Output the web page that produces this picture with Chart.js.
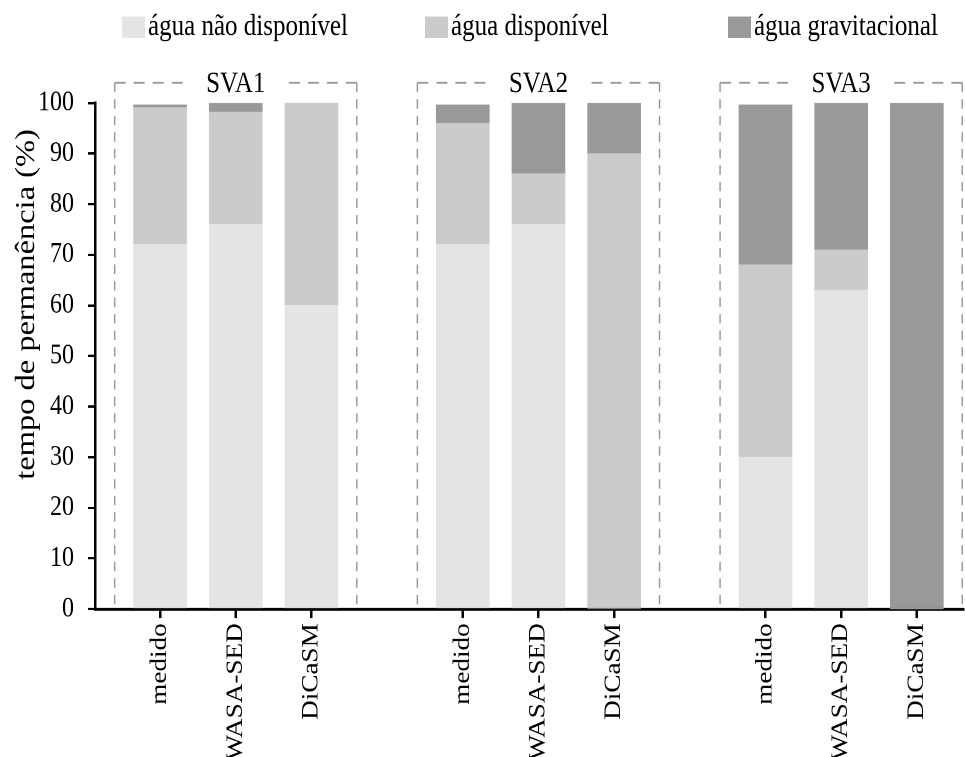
<!DOCTYPE html>
<html>
<head>
<meta charset="utf-8">
<script src="https://cdn.jsdelivr.net/npm/chart.js@4/dist/chart.umd.min.js"></script>
<style>
  html, body { margin: 0; padding: 0; background: #fff; width: 965px; height: 757px; overflow: hidden; }
  #wrap { width: 965px; height: 642px; transform: scaleY(1.18); transform-origin: 0 0; }
</style>
</head>
<body>
<div id="wrap"><canvas id="c" width="965" height="642"></canvas></div>
<script>
// Soil-water classes per site (SVA1..SVA3) and source (measured / two models), % of time
const groups = ['SVA1', 'SVA2', 'SVA3'];
const categories = ['medido', 'WASA-SED', 'DiCaSM'];
const seriesNames = ['água não disponível', 'água disponível', 'água gravitacional'];

// values listed group by group: SVA1 (medido, WASA-SED, DiCaSM), SVA2 (...), SVA3 (...)
const naoDisponivel = [72, 76, 60, 72, 76, 0, 30, 63, 0];
const disponivel    = [27.1, 22.2, 40, 24, 10, 90, 38, 8, 0];
const gravitacional = [0.5, 1.8, 0, 3.6, 14, 10, 31.6, 29, 100];

const yTickValues = [0, 10, 20, 30, 40, 50, 60, 70, 80, 90, 100];
const yTitle = 'tempo de permanência (%)';

const colors = ['#e4e4e4', '#cbcbcb', '#999999'];
const FONT = '"Liberation Serif", "Times New Roman", serif';

// each group takes its categories plus one empty slot as spacer
const slotsPerGroup = categories.length + 1;
const slots = [];
const slotLabels = {};
groups.forEach((g, gi) => {
  categories.forEach((c, ci) => {
    const s = gi * slotsPerGroup + ci;
    slots.push(s);
    slotLabels[s] = c;
  });
});

const makeData = arr => arr.map((v, i) => ({ x: slots[i], y: v }));
const seriesValues = [naoDisponivel, disponivel, gravitacional];

const frames = {
  id: 'frames',
  afterDraw(chart) {
    const { ctx, chartArea } = chart;
    const x = chart.scales.x, y = chart.scales.y;
    ctx.save();

    // legend row
    ctx.font = '25px ' + FONT;
    ctx.textAlign = 'left';
    ctx.textBaseline = 'middle';
    chart.data.datasets.forEach((ds, i) => {
      const bx = 122 + 303 * i;
      ctx.fillStyle = ds.backgroundColor;
      ctx.fillRect(bx, 14, 23, 18);
      ctx.fillStyle = '#000';
      ctx.fillText(ds.label, bx + 26, 23);
    });

    // vertical axis title
    ctx.save();
    ctx.translate(27, 258);
    ctx.rotate(-Math.PI / 2);
    ctx.textAlign = 'center';
    ctx.textBaseline = 'middle';
    ctx.font = '27.5px ' + FONT;
    ctx.fillStyle = '#000';
    ctx.fillText(yTitle, 0, 0);
    ctx.restore();

    // dashed frame around each group with its name on the top edge
    ctx.strokeStyle = '#9a9a9a';
    ctx.lineWidth = 1.5;
    ctx.font = '25px ' + FONT;
    groups.forEach((name, gi) => {
      const s0 = gi * slotsPerGroup;
      const left = x.getPixelForValue(s0 - 0.6);
      const right = x.getPixelForValue(s0 + categories.length - 1 + 0.6);
      const top = y.getPixelForValue(104);
      const bottom = chartArea.bottom - 3;
      const cx = (left + right) / 2;
      const half = ctx.measureText(name).width / 2 + 21;

      const seg = (x1, y1, x2, y2, dash) => {
        ctx.setLineDash(dash);
        ctx.beginPath();
        ctx.moveTo(x1, y1);
        ctx.lineTo(x2, y2);
        ctx.stroke();
      };
      seg(left, top, cx - half, top, [11, 8]);
      seg(right, top, cx + half, top, [11, 8]);
      seg(left, top, left, bottom, [8, 6]);
      seg(right, top, right, bottom, [8, 6]);

      ctx.setLineDash([]);
      ctx.fillStyle = '#000';
      ctx.textAlign = 'center';
      ctx.textBaseline = 'middle';
      ctx.fillText(name, cx, top + 1.5);
    });
    ctx.restore();
  }
};

new Chart(document.getElementById('c'), {
  type: 'bar',
  data: {
    datasets: seriesNames.map((name, i) => ({
      label: name,
      data: makeData(seriesValues[i]),
      backgroundColor: colors[i],
      borderWidth: 0,
      barThickness: 53
    }))
  },
  options: {
    responsive: false,
    animation: false,
    devicePixelRatio: 2,
    layout: { padding: { left: 0, right: 2, top: 87.3, bottom: 0 } },
    plugins: { legend: { display: false }, tooltip: { enabled: false } },
    scales: {
      x: {
        type: 'linear',
        stacked: true,
        offset: false,
        min: -0.86,
        max: 10.61,
        afterBuildTicks: s => { s.ticks = slots.map(v => ({ value: v })); },
        afterFit: s => { s.height = 642 - 516.1; },
        border: { display: true, color: '#000', width: 2.5 },
        grid: { offset: false, drawOnChartArea: false, drawTicks: true, tickLength: 7.6, color: '#000', lineWidth: 2.5 },
        ticks: {
          autoSkip: false,
          minRotation: 90,
          maxRotation: 90,
          padding: 4.5,
          color: '#000',
          font: { family: FONT, size: 23 },
          callback: v => slotLabels[v] ?? ''
        }
      },
      y: {
        stacked: true,
        min: 0,
        max: 100,
        afterBuildTicks: s => { s.ticks = yTickValues.map(v => ({ value: v })); },
        afterFit: s => { s.width = 95; },
        border: { display: true, color: '#000', width: 2.5 },
        grid: { drawOnChartArea: false, drawTicks: true, tickLength: 7, color: '#000', lineWidth: 2 },
        ticks: {
          padding: 14,
          color: '#000',
          font: { family: FONT, size: 24 }
        }
      }
    }
  },
  plugins: [frames]
});
</script>
</body>
</html>
